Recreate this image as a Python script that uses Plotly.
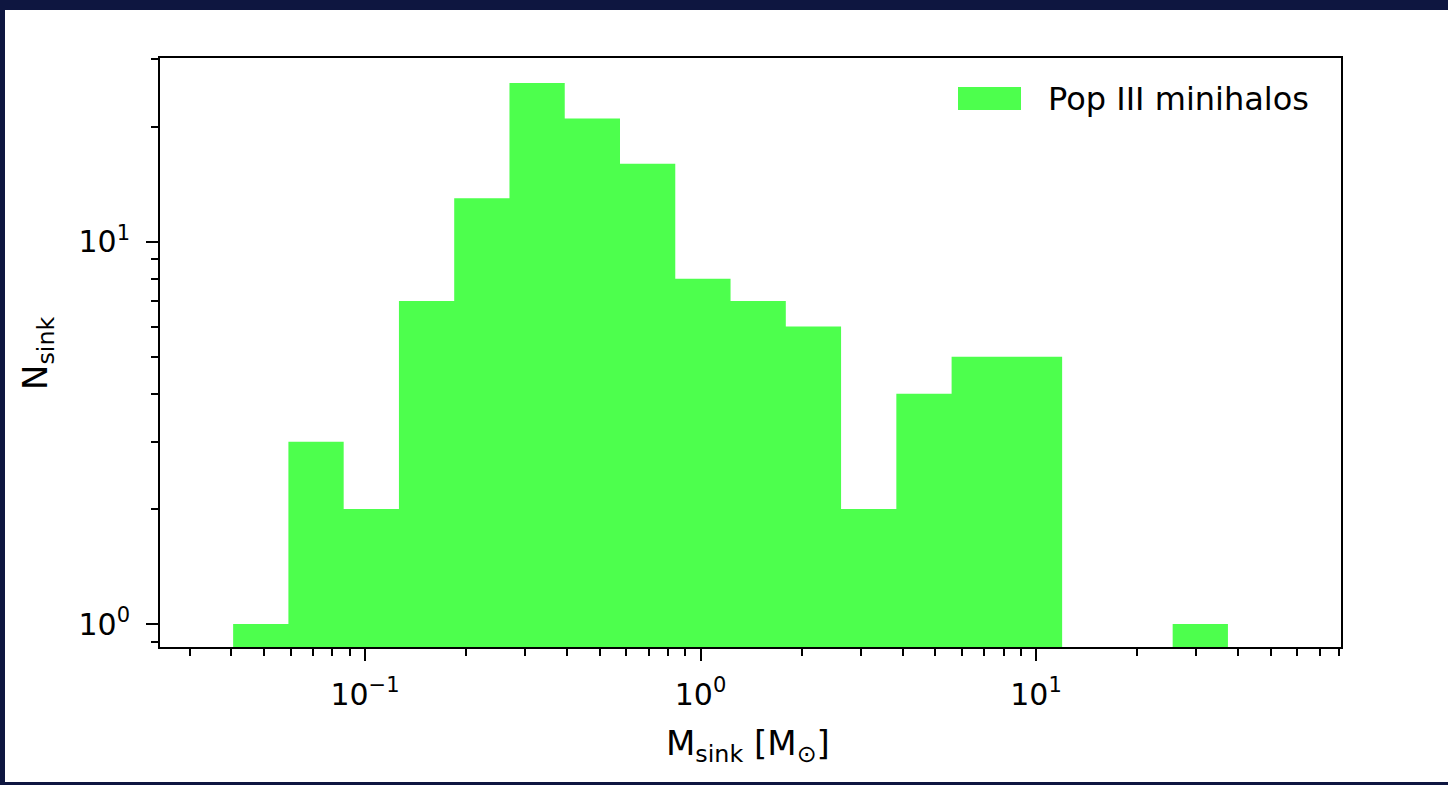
import numpy as np
import plotly.graph_objects as go

# ---- data ----
log_mass_min = -1.393          # log10 of left edge of first bin
log_mass_max = 1.572           # log10 of right edge of last bin
n_bins = 18
counts = [1, 3, 2, 7, 13, 26, 21, 16, 8, 7, 6, 2, 4, 5, 5, 0, 0, 1]
series_name = "Pop III minihalos"
x_tickvals = [0.1, 1, 10]
x_ticktext = ["10<sup>−1</sup>", "10<sup>0</sup>", "10<sup>1</sup>"]
y_tickvals = [1, 10]
y_ticktext = ["10<sup>0</sup>", "10<sup>1</sup>"]

edges = np.logspace(log_mass_min, log_mass_max, n_bins + 1)

# step polygon of the histogram (bars start below the visible y range)
floor = 0.1
xs = [edges[0]]
ys = [floor]
for i, c in enumerate(counts):
    v = c if c > 0 else floor
    xs += [edges[i], edges[i + 1]]
    ys += [v, v]
xs.append(edges[-1])
ys.append(floor)

W, H = 1448, 785
L, R, T, B = 160, 1341, 58, 647
PW, PH = R - L, B - T


def px(xp):
    return (xp - L) / PW


def py(yp):
    return (B - yp) / PH


FONT = "DejaVu Sans"
GREEN = "rgb(77,255,77)"

fig = go.Figure()
fig.add_trace(go.Scatter(
    x=xs, y=ys, mode="lines", fill="toself", fillcolor=GREEN,
    line=dict(width=0, color=GREEN), name=series_name, showlegend=False,
    hoverinfo="skip",
))

minor_x = [m * 10.0 ** e for e in (-2, -1, 0, 1) for m in range(2, 10)]
minor_y = [m * 10.0 ** e for e in (-1, 0, 1) for m in range(2, 10)]

axis_common = dict(
    showline=True, linecolor="black", linewidth=2, mirror=True,
    ticks="outside", ticklen=12, tickwidth=2, tickcolor="black",
    showgrid=False, zeroline=False,
    tickfont=dict(family=FONT, size=30, color="black"),
)

fig.update_xaxes(
    type="log", range=[-1.611, 1.909],
    tickmode="array", tickvals=x_tickvals, ticktext=x_ticktext,
    ticklabelstandoff=8,
    minor=dict(tickmode="array", tickvals=minor_x, ticks="outside",
               ticklen=7, tickwidth=1.5, tickcolor="black", showgrid=False),
    **axis_common,
)
fig.update_yaxes(
    type="log", range=[-0.060, 1.4805],
    tickmode="array", tickvals=y_tickvals, ticktext=y_ticktext,
    ticklabelstandoff=10,
    minor=dict(tickmode="array", tickvals=minor_y, ticks="outside",
               ticklen=7, tickwidth=1.5, tickcolor="black", showgrid=False),
    **axis_common,
)

shapes = [
    # white figure panel on the dark background
    dict(type="rect", xref="paper", yref="paper", layer="below",
         x0=px(5), x1=px(1460), y0=py(782), y1=py(10),
         fillcolor="white", line=dict(width=0)),
    # legend patch
    dict(type="rect", xref="paper", yref="paper",
         x0=px(958), x1=px(1021), y0=py(110), y1=py(87),
         fillcolor=GREEN, line=dict(width=0)),
]

annotations = [
    dict(text=series_name, xref="paper", yref="paper", x=px(1046), y=py(98.5),
         xanchor="left", yanchor="middle", showarrow=False,
         font=dict(family=FONT, size=32, color="black")),
    dict(text="M<sub>sink</sub> [M<sub>⊙</sub>]", xref="paper", yref="paper",
         x=px(748), y=py(745), xanchor="center", yanchor="middle",
         showarrow=False, font=dict(family=FONT, size=34, color="black")),
    dict(text="N<sub>sink</sub>", xref="paper", yref="paper",
         x=px(37), y=py(353), xanchor="center", yanchor="middle",
         textangle=-90, showarrow=False,
         font=dict(family=FONT, size=34, color="black")),
]

fig.update_layout(
    width=W, height=H,
    margin=dict(l=L, r=W - R, t=T, b=H - B, pad=0),
    paper_bgcolor="#0e1640", plot_bgcolor="white",
    shapes=shapes, annotations=annotations, showlegend=False,
    font=dict(family=FONT, color="black"),
)

fig.write_html("out.html")
